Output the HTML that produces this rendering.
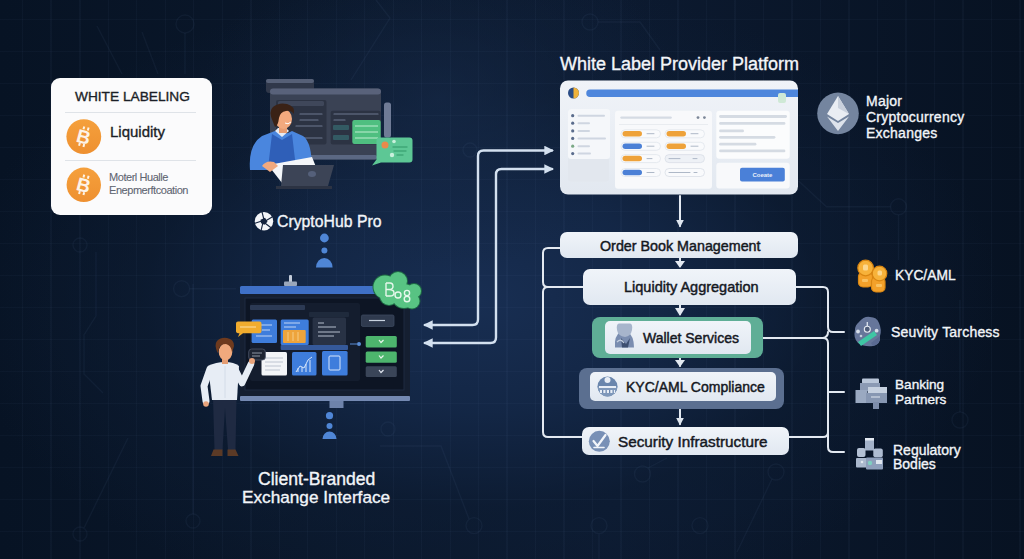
<!DOCTYPE html>
<html><head><meta charset="utf-8">
<style>
*{margin:0;padding:0;box-sizing:border-box}
html,body{width:1024px;height:559px;overflow:hidden;background:#081426}
body{font-family:"Liberation Sans",sans-serif;position:relative}
#bg{position:absolute;left:0;top:0;width:1024px;height:559px;
background:
repeating-linear-gradient(90deg, rgba(120,150,200,0) 0px, rgba(120,150,200,0) 22px, rgba(120,150,200,0.042) 22px, rgba(120,150,200,0.042) 23.5px, rgba(120,150,200,0) 23.5px, rgba(120,150,200,0) 28.5px),
repeating-linear-gradient(0deg, rgba(120,150,200,0) 0px, rgba(120,150,200,0) 27px, rgba(120,150,200,0.04) 27px, rgba(120,150,200,0.04) 28.5px, rgba(120,150,200,0) 28.5px, rgba(120,150,200,0) 32px),
radial-gradient(ellipse 240px 170px at 440px 100px, rgba(24,44,76,0.55) 0%, rgba(20,38,66,0.3) 55%, rgba(8,20,38,0) 100%),
radial-gradient(ellipse 520px 320px at 480px 300px, rgba(24,46,82,1) 0%, rgba(20,40,72,0.9) 35%, rgba(14,30,54,0.55) 65%, rgba(8,20,38,0) 100%),
linear-gradient(90deg,#071324 0%,#0a172a 30%,#0c1a30 60%,#071222 100%);}
.t{position:absolute;white-space:nowrap;line-height:1;-webkit-text-stroke:0.35px currentColor}
.w{color:#f2f5f9}
.box{position:absolute;background:linear-gradient(#f0f4f9,#e1e8f1);border-radius:7px}
</style></head><body>
<div id="bg"></div>
<svg id="traces" width="1024" height="559" style="position:absolute;left:0;top:0">
<g fill="none" stroke="rgba(120,150,200,0.065)" stroke-width="1.4">
 <path d="M376,0 L390,18 L351,80"/>
 <circle cx="185" cy="24" r="9"/><path d="M185,33 V74"/><path d="M97,26 L122,74"/><path d="M142,32 L158,74"/>
 <circle cx="80" cy="245" r="7"/><path d="M96,316 L84,335 V374 L103,393"/><path d="M96,316 V252"/>
 <circle cx="181.6" cy="288.7" r="8"/><path d="M189.6,288.7 H236"/>
 <path d="M128,438 L84,528"/><circle cx="80" cy="534" r="7"/>
 <path d="M193,284 V514"/><circle cx="193" cy="521" r="7"/>
 <circle cx="474" cy="525.6" r="8"/><path d="M469,519 L441,446 H380"/>
 <circle cx="388" cy="429" r="7"/>
 <circle cx="599" cy="525.6" r="8"/><path d="M599,534 V559"/>
 <circle cx="642.5" cy="474" r="8"/><path d="M648,468 L667,458"/>
 <circle cx="700" cy="525.6" r="8"/>
 <circle cx="776" cy="472" r="8"/><path d="M772,479 L737,552"/>
 <circle cx="898.5" cy="206.8" r="8"/><path d="M890.5,206.8 H826.5 L798.6,181"/><path d="M898.5,214.8 V260"/>
 <circle cx="590" cy="22" r="8"/><path d="M598,22 H640 L660,50"/>
 <circle cx="470" cy="150" r="7"/>
 <circle cx="356" cy="495" r="7"/>
 <circle cx="960" cy="420" r="8"/><path d="M960,300 V412"/>
</g>
</svg>
<svg id="art" width="1024" height="559" style="position:absolute;left:0;top:0">
<defs>
 <linearGradient id="btc" x1="0" y1="0" x2="0" y2="1"><stop offset="0" stop-color="#f5a03c"/><stop offset="1" stop-color="#ee9030"/></linearGradient>
 <linearGradient id="win" x1="0" y1="0" x2="0" y2="1"><stop offset="0" stop-color="#f0f3f8"/><stop offset="1" stop-color="#e2e8f0"/></linearGradient>
 <marker id="ah2" viewBox="0 0 10 10" refX="8" refY="5" markerWidth="4" markerHeight="4" orient="auto-start-reverse"><path d="M0,0 L10,5 L0,10 z" fill="#d3e0ef"/></marker>
 <marker id="ah" viewBox="0 0 10 10" refX="8" refY="5" markerWidth="4" markerHeight="4" orient="auto-start-reverse"><path d="M0,0 L10,5 L0,10 z" fill="#dfe6ef"/></marker>
</defs>
<rect x="51" y="78" width="161" height="137" rx="9" fill="#fbfbfc"/>
<rect x="65" y="112" width="131" height="1" fill="#dfe3e8"/>
<rect x="65" y="160" width="131" height="1" fill="#dfe3e8"/>
<!-- bitcoin icons in card -->
<g>
 <circle cx="83.8" cy="136.6" r="17.4" fill="url(#btc)"/>
 <circle cx="83.8" cy="184.8" r="17.2" fill="url(#btc)"/>
</g>
<!-- arrows from platform to client monitor -->
<g fill="none" stroke="#d3e0ef" stroke-width="2.4" stroke-linecap="round" stroke-linejoin="round">
 <path d="M425,325 H472.5 Q478,325 478,319.5 V156 Q478,150.5 483.5,150.5 H552" marker-end="url(#ah2)" marker-start="url(#ah2)"/>
 <path d="M425,343 H490.5 Q496,343 496,337.5 V174.5 Q496,169 501.5,169 H552" marker-end="url(#ah2)" marker-start="url(#ah2)"/>
</g>

<!-- flowchart connectors -->
<g fill="none" stroke="#e3e9f1" stroke-width="2" stroke-linecap="round">
 <path d="M680,196 V226" marker-end="url(#ah)"/>
 <path d="M680,258 V266" />
 <path d="M680,305 V314" />
 <path d="M680,358 V366" />
 <path d="M680,409 V424" marker-end="url(#ah)"/>
 <!-- left bracket -->
 <path d="M560,248 H548 Q543,248 543,253 V282 Q543,287 548,287 H583"/>
 <path d="M548,287 Q543,287 543,292 V432 Q543,437 548,437 H582"/>
 <!-- right bracket -->
 <path d="M796,287 H823 Q828,287 828,292 V327 Q828,332 833,332 H844"/>
 <path d="M763,338 H823 Q828,338 828,343 V447 Q828,452 833,452 H844"/>
 <path d="M828,332 Q828,337 823,338"/>
 <path d="M789,437 H823 Q828,437 828,432"/>
 <path d="M828,392 H844"/>
</g>
<g fill="#e3e9f1">
 <path d="M675,261 L685,261 L680,268 z"/>
 <path d="M675,308 L685,308 L680,316 z"/>
 <path d="M675,360 L685,360 L680,367 z"/>
</g>

<!-- platform window -->
<g>
 <rect x="560" y="80.5" width="238" height="114" rx="8" fill="url(#win)"/>
 <circle cx="573.5" cy="93" r="5.5" fill="#2a4c86"/>
 <path d="M573.5,87.5 a5.5,5.5 0 0 1 0,11 z" fill="#f0b23a"/>
 <path d="M586,89.5 H798 V97 H590 a3.75,3.75 0 0 1 0,-7.5z" fill="#4e86dc"/>
 <rect x="778" y="93" width="8" height="10" rx="2" fill="#cfe9d6"/>
 <!-- sidebar -->
 <rect x="568" y="109" width="41" height="72.5" rx="3" fill="#e2e7ee"/>
 <rect x="568" y="109" width="42" height="50" rx="3" fill="#f5f7fa"/>
 <g fill="#5a6c8c">
  <circle cx="572.7" cy="115.7" r="1.6"/><circle cx="572.7" cy="123.2" r="1.6"/><circle cx="572.7" cy="130.9" r="1.6"/>
  <circle cx="572.7" cy="138.4" r="1.6"/><circle cx="572.7" cy="146.2" r="1.6" fill="#7aa886"/><circle cx="572.7" cy="153.6" r="1.6"/>
 </g>
 <g stroke="#cfd6e1" stroke-width="2" stroke-linecap="round">
  <path d="M578.5,115.7 H604"/><path d="M578.5,123.2 H589"/><path d="M578.5,130.9 H589"/>
  <path d="M578.5,138.4 H605"/><path d="M578.5,146.2 H589"/><path d="M578.5,153.6 H590"/>
 </g>
 <!-- middle panel -->
 <rect x="615" y="110.7" width="97" height="78" rx="3" fill="#f8f9fb"/>
 <path d="M621.5,117.6 H670.6" stroke="#d5dbe4" stroke-width="2.4" stroke-linecap="round"/>
 <circle cx="698" cy="117.6" r="1.4" fill="#7c8798"/><circle cx="704.4" cy="117.6" r="1.4" fill="#7c8798"/>
 <path d="M619,124.5 H708" stroke="#e4e8ee" stroke-width="0.8"/>
 <g>
  <rect x="621" y="129.8" width="39.5" height="8" rx="4" fill="#f9fafc" stroke="#dde2ea" stroke-width="0.7"/>
  <rect x="622.5" y="131" width="19.5" height="5.5" rx="2.75" fill="#eea23a"/>
  <rect x="665" y="129.8" width="39.5" height="8" rx="4" fill="#f9fafc" stroke="#dde2ea" stroke-width="0.7"/>
  <rect x="666.5" y="131" width="19.5" height="5.5" rx="2.75" fill="#eea23a"/>
  <rect x="621" y="142.3" width="39.5" height="8" rx="4" fill="#f9fafc" stroke="#dde2ea" stroke-width="0.7"/>
  <rect x="622.5" y="143.5" width="19.5" height="5.5" rx="2.75" fill="#4b80d6"/>
  <rect x="665" y="142.3" width="39.5" height="8" rx="4" fill="#f9fafc" stroke="#dde2ea" stroke-width="0.7"/>
  <rect x="666.5" y="143.5" width="19.5" height="5.5" rx="2.75" fill="#eea23a"/>
  <rect x="621" y="154.6" width="39.5" height="8" rx="4" fill="#f9fafc" stroke="#dde2ea" stroke-width="0.7"/>
  <rect x="622.5" y="155.8" width="19.5" height="5.5" rx="2.75" fill="#eea23a"/>
  <rect x="665" y="154.6" width="39.5" height="8" rx="4" fill="#eef1f6" stroke="#d5dbe4" stroke-width="0.7"/>
  <rect x="621" y="168.5" width="39.5" height="8" rx="4" fill="#f9fafc" stroke="#dde2ea" stroke-width="0.7"/>
  <rect x="622.5" y="169.7" width="19.5" height="5.5" rx="2.75" fill="#4b80d6"/>
  <rect x="665" y="168.5" width="39.5" height="8" rx="4" fill="#f9fafc" stroke="#d5dbe4" stroke-width="0.7"/>
 </g>
 <g stroke="#aeb8c7" stroke-width="1" stroke-linecap="round">
  <path d="M647,133.7 H654"/><path d="M691,133.7 H698"/><path d="M647,146.2 H654"/><path d="M691,146.2 H698"/>
  <path d="M647,158.6 H652"/><path d="M669,158.6 H680"/><path d="M693,158.6 H697"/><path d="M647,172.5 H654"/><path d="M669,172.5 H690"/><path d="M694,172.5 H697"/>
 </g>
 <!-- right panels -->
 <rect x="716.3" y="110.7" width="73.4" height="48" rx="3" fill="#fbfcfd"/>
 <g stroke="#d5dbe3" stroke-width="2.8" stroke-linecap="round">
  <path d="M720.5,116.5 H785.6"/><path d="M720.5,123.4 H784"/><path d="M720.5,130.9 H742.6"/>
  <path d="M720.5,137.3 H774"/><path d="M720.5,144.2 H755"/><path d="M720.5,150.9 H784"/>
 </g>
 <rect x="716.3" y="162.8" width="73.4" height="25.8" rx="3" fill="#f8f9fb"/>
 <rect x="740" y="167.8" width="44.8" height="13.8" rx="2" fill="#4a80d8"/>
 <text x="762.4" y="177" font-family="Liberation Sans" font-size="6" font-weight="bold" fill="#eaf0fa" text-anchor="middle">Coeate</text>
</g>
<!-- bitcoin B glyphs -->
<g fill="#fdf3e6" font-family="Liberation Sans" font-weight="bold" font-size="19" text-anchor="middle">
 <g transform="translate(83.6 136.6) rotate(15)"><text x="0" y="7">B</text><path d="M-3,-10 h2 v3 h-2z M1.5,-10 h2 v3 h-2z M-3,7 h2 v3 h-2z M1.5,7 h2 v3 h-2z"/></g>
 <g transform="translate(83.6 184.8) rotate(15)"><text x="0" y="7">B</text><path d="M-3,-10 h2 v3 h-2z M1.5,-10 h2 v3 h-2z M-3,7 h2 v3 h-2z M1.5,7 h2 v3 h-2z"/></g>
</g>
<!-- ===== top illustration: person with monitor ===== -->
<g>
 <rect x="266" y="79" width="48" height="14" rx="3" fill="#30384a"/><rect x="266" y="79" width="48" height="4" rx="2" fill="#566077"/>
 <rect x="270" y="88.5" width="111" height="71" rx="4" fill="#3a4254"/>
 <rect x="270" y="88.5" width="111" height="6" rx="3" fill="#59627a"/>
 <rect x="384" y="102.5" width="7" height="35" rx="2.5" fill="#6f7b96"/>
 <rect x="276" y="100" width="50.5" height="44.5" rx="2" fill="#2c3343"/>
 <rect x="278" y="101" width="46" height="5" rx="1.5" fill="#3f475a"/>
 <rect x="330.7" y="110.7" width="50" height="33.7" rx="2" fill="#2c3343"/>
 <g stroke="#6d7890" stroke-width="1.2" stroke-linecap="round">
  <path d="M300,114 H322"/><path d="M300,120 H318"/><path d="M296,126 H322"/><path d="M300,138 H322"/>
  <path d="M334,114 H378"/><path d="M334,120 H345"/>
 </g>
 <rect x="333" y="125" width="16" height="5" rx="1" fill="#335a63"/>
 <rect x="333" y="135" width="16" height="5" rx="1" fill="#335a63"/>
 <rect x="352.3" y="120" width="28.4" height="24" rx="2" fill="#4fbf80"/>
 <g stroke="#aee6c4" stroke-width="1.2"><path d="M355,126 H378"/><path d="M355,132 H378"/><path d="M355,138 H378"/></g>
 <rect x="307" y="155" width="70" height="4.5" rx="2" fill="#5b6883"/>
 <!-- green chat bubble -->
 <path d="M376.5,137.5 H409.5 Q412.5,137.5 412.5,140.5 V159.5 Q412.5,162.5 409.5,162.5 H381 L372,165.5 L376.5,159.5 V140.5 Q376.5,137.5 379.5,137.5z" fill="#5dc795"/>
 <circle cx="385" cy="145" r="3.5" fill="#e98a4b"/>
 <g stroke="#3fa877" stroke-width="1.4" stroke-linecap="round"><path d="M393,147 H407"/><path d="M394,151 H406"/><path d="M397,155 H403"/></g><circle cx="394" cy="141.5" r="1.8" fill="#c9f0dc"/><circle cx="392" cy="155" r="2.2" fill="#c9f0dc"/>
 <!-- person -->
 <path d="M250,170 Q248,145 262,136 L275,131 Q283,137 292,131 L303,136 Q312,142 312,170z" fill="#4a86de"/>
 <path d="M272,134 L282,140 L292,134 L296,168 H268z" fill="#2f5fb8"/>
 <path d="M275,131 L282,137 L289,131 L286,128 H278z" fill="#e6ecf5"/>
 <rect x="279" y="124" width="8" height="9" fill="#e79d73"/>
 <ellipse cx="283.5" cy="119" rx="8.5" ry="10" fill="#f2a97e"/>
 <path d="M273,122 Q268,111 273,107 Q279,102 287,104 Q295,106 294,114 Q291,110 286,111 Q280,112 279,118 Q278,126 275,127z" fill="#3a2216"/>
 <path d="M285,123 Q288,125 291,122" stroke="#fff" stroke-width="1" fill="none"/>
 <!-- paper & laptop -->
 <path d="M268,165 L312,157 L318,172 L282,183z" fill="#f4f6f9"/>
 <path d="M262,166 Q266,160 274,162 L278,166 L270,172z" fill="#f2a97e"/>
 <path d="M283,165 H334 L328,186 H281z" fill="#3c4456"/>
 <path d="M276,186 H332 V189 H276z" fill="#2c3343"/>
 <ellipse cx="312" cy="174" rx="4" ry="3" fill="#55607a"/>
</g>

<!-- CryptoHub logo -->
<g transform="translate(264 221.3)">
 <circle r="9.2" fill="#f4f6f9"/>
 <g stroke="#14233d" stroke-width="1.1" fill="none">
  <path d="M0,-1.5 L-2,-9.5"/><path d="M1,0 L8.5,-4.5"/><path d="M0.5,1.5 L7,6.5"/><path d="M-1,1 L-3,9.5"/><path d="M-1.5,-0.5 L-9,2"/>
 </g>
 <path d="M-3.5,-1.5 L1,-3.5 L3.5,0.5 L0.5,3.5 L-3,2z" fill="#14233d"/>
</g>
<!-- dots under logo -->
<g fill="#4f86d6">
 <circle cx="324.4" cy="238" r="4.4"/>
 <circle cx="324.4" cy="250.5" r="3"/>
 <path d="M316,267.6 A8.3,9.6 0 0 1 332.6,267.6z"/>
</g>
<!-- ===== lower monitor ===== -->
<g>
 <rect x="289" y="275" width="3" height="8" rx="1" fill="#c3ccda"/>
 <rect x="284" y="281.5" width="13" height="4.5" rx="1" fill="#9aa7bb"/>
 <rect x="240" y="286" width="170" height="8" rx="1.5" fill="#3f70c6"/>
 <rect x="240" y="294" width="170" height="102" fill="#151f31"/>
 <rect x="245" y="298" width="159" height="92" fill="#0d1524" stroke="#1f2b40" stroke-width="1"/>
 <rect x="250" y="303" width="110" height="78" rx="2" fill="#141d2e"/>
 <rect x="250" y="305" width="55" height="5" rx="1" fill="#2c3a54"/>
 <rect x="240" y="396" width="170" height="5" rx="1" fill="#7489b2"/>
 <rect x="329.5" y="401" width="14" height="7" fill="#6e83ab"/>
 <!-- cards -->
 <rect x="251.6" y="319.5" width="25.4" height="23.5" rx="1.5" fill="#3e7ddc"/>
 <g stroke="#cfe0f7" stroke-width="0.9"><path d="M258,325 H272"/><path d="M262,330 H270"/><path d="M256,336 H272"/></g>
 <rect x="280.7" y="319.5" width="28" height="25.5" rx="1.5" fill="#3e7ddc"/>
 <rect x="283" y="330" width="22.7" height="13" rx="1" fill="#eea43c"/>
 <g stroke="#f8d79a" stroke-width="0.8"><path d="M288,332 V341"/><path d="M293,332 V341"/><path d="M298,332 V341"/></g>
 <g stroke="#cfe0f7" stroke-width="0.9"><path d="M284,323 H300"/><path d="M284,327 H296"/></g>
 <rect x="312.6" y="317.5" width="33.4" height="27.5" rx="1.5" fill="#283245"/><rect x="309" y="312" width="40" height="5" rx="1" fill="#1f2a3c"/>
 <g stroke="#c5cfdd" stroke-width="0.9"><path d="M318,323 H324"/><path d="M318,327 H336"/><path d="M318,332 H340"/><path d="M318,336 H334"/></g>
 <rect x="280.7" y="345" width="67.3" height="5" rx="1" fill="#35599a"/>
 <rect x="261.5" y="352" width="25.5" height="23.6" rx="1.5" fill="#f3f5f8"/>
 <g stroke="#b8c0cc" stroke-width="0.9"><path d="M265,358 H283"/><path d="M265,362 H283"/><path d="M265,366 H281"/><path d="M265,370 H280"/></g>
 <rect x="292" y="352" width="24.5" height="23.6" rx="1.5" fill="#3e7ddc"/>
 <path d="M296,372 L300,366 L304,368 L308,360 L312,357" stroke="#d6e6fb" stroke-width="1" fill="none"/>
 <g stroke="#d6e6fb" stroke-width="1"><path d="M298,372 V368"/><path d="M302,372 V367"/><path d="M306,372 V364"/><path d="M310,372 V360"/></g>
 <rect x="322" y="351" width="25.6" height="24.6" rx="1.5" fill="#3e7ddc"/>
 <rect x="329" y="356" width="11" height="14" rx="1" fill="none" stroke="#d6e6fb" stroke-width="1"/>
 <!-- right buttons -->
 <rect x="361.4" y="315" width="32.6" height="11.4" rx="1.5" fill="#2f3a4e" stroke="#3e4a60" stroke-width="0.8"/>
 <path d="M369,320.5 H385" stroke="#c9d3e0" stroke-width="1.2"/>
 <rect x="365.7" y="336" width="31.1" height="11.4" rx="1.5" fill="#4db56d"/>
 <rect x="365.7" y="351.4" width="31.1" height="11.4" rx="1.5" fill="#4db56d"/>
 <rect x="365.7" y="366.3" width="31.1" height="10.7" rx="1.5" fill="#3a4558"/>
 <g stroke="#e8f5ec" stroke-width="1.2" fill="none"><path d="M379,340 L381,342.5 L383.5,340"/><path d="M379,355.5 L381,358 L383.5,355.5"/><path d="M379,370 L381,372.5 L383.5,370" stroke="#dfe5ee"/></g>
 <path d="M350,344 H357" stroke="#5b8fd8" stroke-width="1"/>
 <circle cx="359" cy="344" r="2" fill="#5b8fd8"/>
 <!-- speech bubbles -->
 <path d="M238,321.5 H259.5 Q261.5,321.5 261.5,323.5 V331.3 Q261.5,333.3 259.5,333.3 H243 L238,337 L239.5,333.3 Q236,333.3 236,331.3 V323.5 Q236,321.5 238,321.5z" fill="#f0ac2e"/>
 <path d="M240,327 H256" stroke="#fde6b6" stroke-width="0.9"/>
 <rect x="248.7" y="349" width="16.7" height="11" rx="3" fill="#1e2533" stroke="#4d566a" stroke-width="0.8"/>
 <g stroke="#aab4c2" stroke-width="0.8"><path d="M252,353 H262"/><path d="M252,356 H260"/></g>
 <!-- presenter -->
 <path d="M213,398 H236.5 L235.5,450 H228 L225,408 L222.5,450 H214.5z" fill="#1f2a42"/>
 <path d="M213.5,449.5 H222.5 V456 H211z" fill="#5b3a26"/>
 <path d="M227.5,449.5 H235.5 L238.5,456 H227.5z" fill="#5b3a26"/>
 <g stroke="#e7edf5" stroke-linecap="round" stroke-linejoin="round" fill="none">
  <path d="M210,369 L204,386 L206,401" stroke-width="7"/>
  <path d="M235,369 L242,383 L251,364" stroke-width="6.5"/>
 </g>
 <path d="M208,366 Q216,362 225,362 Q234,362 239,366 L237,400 H212z" fill="#e7edf5"/>
 <path d="M225,366 V398" stroke="#cfd8e4" stroke-width="0.8"/>
 <circle cx="206" cy="404" r="2.8" fill="#e9a47c"/>
 <circle cx="252" cy="361" r="3" fill="#e9a47c"/>
 <rect x="222" y="356" width="6" height="8" fill="#e39c72"/>
 <ellipse cx="225.5" cy="352" rx="6.8" ry="8.5" fill="#f0a97d"/>
 <path d="M217.5,353 Q214,344 217,341 Q221,337 227,338 Q234,339 234,346 Q233,350 232,352 Q231,345 226,344 Q220,344 219,349z" fill="#6e3a1e"/>
 <!-- dots under monitor -->
 <g fill="#4f86d6">
  <circle cx="329.5" cy="415.7" r="3.6"/>
  <circle cx="329.5" cy="426" r="3"/>
  <path d="M322.5,439 A7,7.5 0 0 1 336.5,439z"/>
 </g>
 <!-- green cloud -->
 <g fill="#1f6b45">
  <circle cx="385" cy="287" r="12.5"/><circle cx="398" cy="281" r="10"/><circle cx="389" cy="296" r="10"/>
  <circle cx="404" cy="296" r="13"/><circle cx="414" cy="291" r="8"/><circle cx="412" cy="301" r="8.5"/>
 </g>
 <g fill="#58c383">
  <circle cx="385" cy="287" r="11.5"/><circle cx="398" cy="281" r="9"/><circle cx="389" cy="296" r="9"/>
  <circle cx="404" cy="296" r="12"/><circle cx="414" cy="291" r="7"/><circle cx="412" cy="301" r="7.5"/>
 </g>
 <g fill="none" stroke="#e6f7ec" stroke-width="1.4">
  <path d="M386,283 V296 M386,283 H390 Q393,283 393,286.5 Q393,289.5 389,289.5 H386 M389,289.5 Q394,289.5 394,293 Q394,296 390,296 H386"/>
  <circle cx="398" cy="295" r="3"/><circle cx="407" cy="293" r="2.6"/><circle cx="407" cy="299" r="2.8"/>
 </g>
</g>

<!-- ===== right icons ===== -->
<g>
 <circle cx="838" cy="113.4" r="20.8" fill="#74859f"/>
 <path d="M838,96 L849,114 L838,121 L827,114z" fill="#e9edf3"/>
 <path d="M838,96 L849,114 L838,108z" fill="#c9d1dd"/>
 <path d="M827,116.5 L838,123 L849,116.5 L838,131z" fill="#dde3eb"/>
 <!-- coins -->
 <g stroke="#d98612" stroke-width="1.2">
  <rect x="858.5" y="272" width="14" height="15" rx="4.5" fill="#f3a12a"/>
  <circle cx="865.6" cy="268" r="7.8" fill="#f7b23a"/>
  <rect x="871.5" y="277" width="13.5" height="15" rx="4.5" fill="#f3a12a"/>
  <circle cx="879.5" cy="273.5" r="7.3" fill="#f7b23a"/>
 </g>
 <g fill="#fcd78e">
  <rect x="863" y="264.5" width="5" height="6" rx="1.5"/><rect x="877.5" y="270.5" width="4.5" height="5" rx="1.5"/>
  <rect x="862" y="279" width="6" height="3" rx="1" fill="#f9c262"/><rect x="876" y="284" width="6" height="3" rx="1" fill="#f9c262"/>
 </g>
 <!-- security blob -->
 <path d="M859,322 Q864,316 870,317 Q877,317 879,323 Q882,330 880,336 Q881,344 873,346 Q864,347 858,343 Q853,338 855,330 Q855,325 859,322z" fill="#66769a"/>
 <path d="M873,346 Q881,344 880,336 L871,343z" fill="#5a6a92"/>
 <path d="M858,342 L874,331 L877,335 L861,346z" fill="#3ec6a4"/>
 <circle cx="867.3" cy="329.3" r="3" fill="#4f5d7a" stroke="#e6ebf2" stroke-width="1.1"/>
 <path d="M867.3,322 V326" stroke="#d5dde8" stroke-width="1.4"/>
 <circle cx="858" cy="331.5" r="1.9" fill="#d5dde8"/><circle cx="876.6" cy="330.7" r="1.9" fill="#d5dde8"/>
 <circle cx="861" cy="336" r="1.3" fill="#c5cfdc"/>
 <!-- banking -->
 <g>
  <rect x="862" y="378.5" width="17" height="5" rx="1" fill="#b9c6d9"/>
  <rect x="860" y="383" width="20" height="8" fill="#8b9ab4"/>
  <rect x="855.5" y="390" width="12" height="13" fill="#9aa9c1"/>
  <rect x="868" y="387" width="19" height="6" fill="#c6d1e0"/>
  <rect x="866" y="393" width="21" height="10" fill="#8797b2"/>
  <rect x="873" y="402" width="6" height="7" fill="#7d8daa"/>
  <path d="M871,397 H880" stroke="#dfe6ef" stroke-width="1"/>
 </g>
 <!-- regulatory -->
 <g>
  <rect x="865" y="438" width="9" height="12.5" fill="#a3b2c9"/>
  <rect x="865" y="438" width="9" height="2.5" fill="#e3e9f1"/>
  <rect x="857" y="448" width="8.5" height="9" rx="2" fill="#b4c1d4"/>
  <rect x="873.3" y="448.5" width="9.5" height="8.7" rx="2" fill="#aebcd1"/>
  <rect x="856" y="458" width="11" height="9.5" rx="1" fill="#aab8cd"/>
  <rect x="866" y="457.5" width="17" height="12" rx="1" fill="#8e9fbb"/>
  <rect x="876" y="460" width="6" height="4" fill="#dfe6ef"/>
  <circle cx="870" cy="463" r="2.2" fill="#7fcfc0"/><circle cx="862" cy="462" r="1.3" fill="#dfe6ef"/>
 </g>
</g>
</svg>

<!-- White labeling card -->
<div class="t" style="left:75px;top:90px;font-size:13.7px;color:#1b1f27">WHITE LABELING</div>
<div class="t" style="left:110px;top:124px;font-size:15px;color:#1b1f27">Liquidity</div>
<div class="t" style="left:109px;top:172px;font-size:11px;color:#5f6672;letter-spacing:-0.45px;-webkit-text-stroke:0.1px #5f6672">Moterl Hualle</div>
<div class="t" style="left:109px;top:185px;font-size:11px;color:#5f6672;letter-spacing:-0.45px;-webkit-text-stroke:0.1px #5f6672">Enepmerftcoation</div>

<!-- titles -->
<div class="t w" style="left:560px;top:55px;font-size:18px">White Label Provider Platform</div>
<div class="t w" style="left:277px;top:214px;font-size:15.8px">CryptoHub Pro</div>
<div class="t w" style="left:258px;top:471px;font-size:17.6px">Client-Branded</div>
<div class="t w" style="left:242px;top:489px;font-size:17.2px">Exchange Interface</div>

<!-- right labels -->
<div class="t w" style="left:866px;top:94px;font-size:14px;letter-spacing:0.25px">Major</div>
<div class="t w" style="left:866px;top:110.4px;font-size:14px;letter-spacing:0.25px">Cryptocurrency</div>
<div class="t w" style="left:866px;top:126.2px;font-size:14px;letter-spacing:0.25px">Exchanges</div>
<div class="t w" style="left:895px;top:268.5px;font-size:13.8px">KYC/AML</div>
<div class="t w" style="left:891px;top:325px;font-size:14px;letter-spacing:0.2px">Seuvity Tarchess</div>
<div class="t w" style="left:895px;top:377.5px;font-size:13.6px">Banking</div>
<div class="t w" style="left:895px;top:392.9px;font-size:13.6px">Partners</div>
<div class="t w" style="left:893px;top:443px;font-size:14px">Regulatory</div>
<div class="t w" style="left:893px;top:457.4px;font-size:14px">Bodies</div>

<!-- flowchart boxes -->
<div class="box" style="left:560px;top:232px;width:238px;height:26px"></div>
<div class="t" style="left:600px;top:239px;font-size:14.3px;color:#15181f;-webkit-text-stroke:0.45px #15181f">Order Book Management</div>
<div class="box" style="left:583px;top:269px;width:213px;height:36px"></div>
<div class="t" style="left:624px;top:280px;font-size:14.5px;color:#15181f;-webkit-text-stroke:0.45px #15181f">Liquidity Aggregation</div>
<div style="position:absolute;left:592px;top:317px;width:171px;height:41px;background:#5fae96;border-radius:8px"></div>
<div class="box" style="left:605px;top:321px;width:146px;height:33px;border-radius:5px"></div>
<div class="t" style="left:643px;top:331px;font-size:14px;color:#15181f;-webkit-text-stroke:0.45px #15181f">Wallet Services</div>
<div style="position:absolute;left:579px;top:368px;width:205px;height:41px;background:#5b6f90;border-radius:8px"></div>
<div class="box" style="left:590px;top:372px;width:186px;height:29px;border-radius:5px"></div>
<div class="t" style="left:626px;top:380px;font-size:14px;color:#15181f;-webkit-text-stroke:0.45px #15181f">KYC/AML Compliance</div>
<div class="box" style="left:582px;top:427px;width:207px;height:28px"></div>
<div class="t" style="left:618px;top:434px;font-size:15.3px;color:#15181f;-webkit-text-stroke:0.45px #15181f">Security Infrastructure</div>
<svg id="ov" width="1024" height="559" style="position:absolute;left:0;top:0">
 <!-- wallet person icon -->
 <g>
  <path d="M615,347.5 Q614,336 620,332 Q624,330 628,332 Q634,336 634,347.5z" fill="#7a8db0"/>
  <path d="M619,323.5 H630 Q633,324 632,330 Q631,336 625,337 Q618,336 617,330 Q616,324 619,323.5z" fill="#a7b5cc"/>
  <path d="M621,338 L626,344 L630,338 L628,347.5 H622z" fill="#3d4f70"/>
  <path d="M617,342 Q621,338 624,343" stroke="#c4cfe0" stroke-width="1.3" fill="none"/>
 </g>
 <!-- KYC bank icon -->
 <g>
  <circle cx="607.5" cy="386.5" r="10" fill="#6a86ad"/>
  <path d="M597.5,386.5 A10,10 0 0 0 617.5,386.5z" fill="#7f98ba"/>
  <circle cx="607.5" cy="380" r="3" fill="#e8eef6"/>
  <path d="M599,386 H616 V388 H599z" fill="#e8eef6"/>
  <path d="M600,390 H615 V393 H600z" fill="#e8eef6"/>
  <g fill="#6a86ad"><rect x="602" y="390" width="1.3" height="3"/><rect x="605.5" y="390" width="1.3" height="3"/><rect x="609" y="390" width="1.3" height="3"/><rect x="612.5" y="390" width="1.3" height="3"/></g>
 </g>
 <!-- security check icon -->
 <g>
  <circle cx="599.3" cy="441.3" r="10.5" fill="#7890b6"/>
  <path d="M593.5,441 L597.5,446 L605.5,435" stroke="#f2f5fa" stroke-width="2.2" fill="none" stroke-linecap="round" stroke-linejoin="round"/>
  <path d="M594,447.5 H604" stroke="#f2f5fa" stroke-width="1.6" stroke-linecap="round"/>
 </g>
</svg>
</body></html>
